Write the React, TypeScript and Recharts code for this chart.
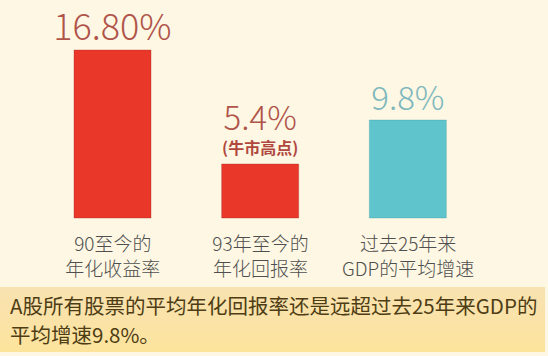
import { BarChart, Bar, XAxis, YAxis, Cell, LabelList } from "recharts";

const categories = ["90至今的\n年化收益率", "93年至今的\n年化回报率", "过去25年来\nGDP的平均增速"];
const values = [16.8, 5.4, 9.8];
const valueLabels = ["16.80%", "5.4%", "9.8%"];
const notes = ["", "(牛市高点)", ""];
const colors = ["#e9372a", "#e9372a", "#5fc4cc"];
const labelColors = ["#b0544a", "#b0544a", "#7db7bd"];
const caption = ["A股所有股票的平均年化回报率还是远超过去25年来GDP的", "平均增速9.8%。"];

const data = categories.map((name, i) => ({ name, value: values[i] }));

const FONT = "'Noto Sans CJK SC', 'Noto Sans', sans-serif";

function CategoryTick(props: any) {
  const { x, y, payload } = props;
  const lines = String(payload.value).split("\n");
  return (
    <text textAnchor="middle" fontSize={19} fontWeight={300} fontFamily={FONT} fill="#4f4f4f">
      {lines.map((line, i) => (
        <tspan key={i} x={x} y={y + 25 + i * 25}>
          {line}
        </tspan>
      ))}
    </text>
  );
}

function ValueLabel(props: any) {
  const { x, y, width, index } = props;
  const cx = x + width / 2;
  const note = notes[index];
  const big = index === 0 ? 36 : 33;
  return (
    <text textAnchor="middle" fontFamily={FONT}>
      <tspan
        x={cx}
        y={note ? y - 34 : y - 10}
        fontSize={big}
        fontWeight={300}
        fill={labelColors[index]}
      >
        {valueLabels[index]}
      </tspan>
      {note && (
        <tspan x={cx} y={y - 10} fontSize={16} fontWeight="bold" fill="#b0483f">
          {note}
        </tspan>
      )}
    </text>
  );
}

export default function App() {
  return (
    <div
      style={{
        position: "fixed",
        left: 0,
        top: 0,
        width: 548,
        height: 356,
        background: "#fdf7e3",
        overflow: "hidden",
      }}
    >
      <BarChart
        width={548}
        height={356}
        data={data}
        margin={{ top: 18, right: 66, left: 39, bottom: 108 }}
      >
        <XAxis
          dataKey="name"
          axisLine={false}
          tickLine={false}
          interval={0}
          height={30}
          tick={<CategoryTick />}
        />
        <YAxis hide domain={[0, 20]} />
        <Bar dataKey="value" barSize={77} isAnimationActive={false} strokeWidth={1}>
          {data.map((_, i) => (
            <Cell key={i} fill={colors[i]} stroke={i === 2 ? "rgba(60,150,160,0.3)" : "rgba(160,40,30,0.35)"} />
          ))}
          <LabelList dataKey="value" content={<ValueLabel />} />
        </Bar>
      </BarChart>
      <div
        style={{
          position: "absolute",
          left: 0,
          top: 287,
          width: 545,
          height: 65,
          background: "linear-gradient(180deg, #f8e2b0 0%, #fbe3a6 60%, #fde49c 100%)",
          fontFamily: FONT,
          fontSize: 20.5,
          lineHeight: "29px",
          color: "#4e3d14",
          padding: "4px 0 0 10px",
          boxSizing: "border-box",
          whiteSpace: "nowrap",
        }}
      >
        {caption.map((line, i) => (
          <div key={i}>{line}</div>
        ))}
      </div>
    </div>
  );
}
